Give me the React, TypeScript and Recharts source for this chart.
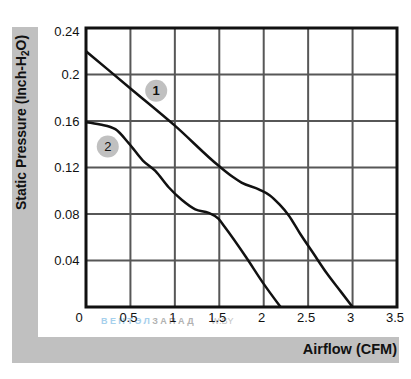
import React from 'react'
import {
  LineChart,
  Line,
  XAxis,
  YAxis,
  CartesianGrid,
  ReferenceArea,
  ReferenceDot,
  Customized,
} from 'recharts'

// curve 1
const flow1 = [0, 0.5, 1.0, 1.5, 1.65, 1.75, 1.95, 2.07, 2.18, 2.28, 2.41, 2.56, 2.71, 2.86, 3.0]
const pressure1 = [0.22, 0.188, 0.156, 0.121, 0.112, 0.107, 0.101, 0.096, 0.088, 0.079, 0.063, 0.046, 0.029, 0.014, 0]

// curve 2
const flow2 = [0, 0.16, 0.33, 0.48, 0.64, 0.78, 0.93, 1.08, 1.23, 1.38, 1.49, 1.56, 1.8, 1.99, 2.19]
const pressure2 = [0.159, 0.157, 0.153, 0.141, 0.126, 0.117, 0.103, 0.092, 0.084, 0.081, 0.076, 0.069, 0.043, 0.021, 0]

const xTicks = [0, 0.5, 1, 1.5, 2, 2.5, 3, 3.5]
const yTicks = [0, 0.04, 0.08, 0.12, 0.16, 0.2, 0.24]

// curve number badges
const badgeIds = ['1', '2']
const badgeFlow = [0.79, 0.245]
const badgePressure = [0.186, 0.138]

const FONT = '"Liberation Sans", Arial, sans-serif'
const GRID = '#575757'
const INK = '#111'

const series1 = flow1.map((f, i) => ({ flow: f, p: pressure1[i] }))
const series2 = flow2.map((f, i) => ({ flow: f, p: pressure2[i] }))

function XTick({ x, y, payload }: { x?: number; y?: number; payload?: { value: number } }) {
  const v = payload?.value ?? 0
  const dx = v === 0 ? -7 : -2
  return (
    <text x={(x ?? 0) + dx} y={(y ?? 0) + 15} textAnchor='middle' fontSize={13} fontFamily={FONT} fill={INK}>
      {String(v)}
    </text>
  )
}

function YTick({ x, y, payload }: { x?: number; y?: number; payload?: { value: number } }) {
  const v = payload?.value ?? 0
  if (v === 0) return null
  const dy = v === 0.24 ? 3 : 0
  return (
    <text x={(x ?? 0) - 0.5} y={(y ?? 0) + 4.5 + dy} textAnchor='end' fontSize={13} fontFamily={FONT} fill={INK}>
      {String(v)}
    </text>
  )
}

function Titles() {
  return (
    <g fontFamily={FONT}>
      <text
        x={26}
        y={122.5}
        transform='rotate(-90 26 122.5)'
        textAnchor='middle'
        fontSize={14}
        fontWeight='bold'
        fill={INK}>
        Static Pressure (Inch-H
        <tspan fontSize={10} dy={3}>2</tspan>
        <tspan dy={-3}>O)</tspan>
      </text>
      <text x={397} y={354} textAnchor='end' fontSize={14.5} fontWeight='bold' fill={INK}>
        Airflow (CFM)
      </text>
      <text x={101} y={324} fontSize={9} fontWeight='bold' letterSpacing={2.4} opacity={0.9}>
        <tspan fill='#9ccbeb'>ВЕНТЭЛ</tspan>
        <tspan fill='#a9a9a9'>ЗАПАД</tspan>
      </text>
      <text x={211} y={324} fontSize={9} fill='#c4c4c4'>
        W.BY
      </text>
    </g>
  )
}

export default function App() {
  return (
    <div style={{ position: 'absolute', left: 0, top: 0, width: 411, height: 379, background: '#fff' }}>
      <div style={{ position: 'absolute', left: 12, top: 27, width: 387, height: 336, background: '#c0c0c0' }} />
      <div style={{ position: 'absolute', left: 38, top: 0, width: 361, height: 337, background: '#fff' }} />
      <div style={{ position: 'absolute', left: 0, top: 0 }}>
        <LineChart width={411} height={379} margin={{ top: 28, right: 14, bottom: 52, left: 46 }}>
          <CartesianGrid stroke={GRID} strokeWidth={2} strokeOpacity={1} />
          <XAxis
            dataKey='flow'
            type='number'
            domain={[0, 3.5]}
            ticks={xTicks}
            axisLine={false}
            tickLine={false}
            tickSize={0}
            tickMargin={0}
            height={20}
            allowDataOverflow
            tick={(props: any) => <XTick {...props} />}
          />
          <YAxis
            type='number'
            domain={[0, 0.24]}
            ticks={yTicks}
            axisLine={false}
            tickLine={false}
            tickSize={0}
            tickMargin={6}
            width={40}
            allowDataOverflow
            tick={(props: any) => <YTick {...props} />}
          />
          <Line data={series1} dataKey='p' type='monotone' stroke={INK} strokeWidth={2.5} dot={false} activeDot={false} isAnimationActive={false} />
          <Line data={series2} dataKey='p' type='monotone' stroke={INK} strokeWidth={2.5} dot={false} activeDot={false} isAnimationActive={false} />
          <ReferenceArea x1={0} x2={3.5} y1={0} y2={0.24} fill='none' fillOpacity={0} stroke={INK} strokeWidth={3} strokeOpacity={1} />
          {badgeIds.map((id, i) => (
            <ReferenceDot
              key={id}
              x={badgeFlow[i]}
              y={badgePressure[i]}
              r={11}
              fill='#c0c0c0'
              stroke='none'
              label={{
                value: id,
                position: 'center',
                fill: INK,
                fontSize: 13,
                fontFamily: FONT,
                fontWeight: id === '1' ? 'bold' : 'normal',
              }}
            />
          ))}
          <Customized component={<Titles />} />
        </LineChart>
      </div>
    </div>
  )
}
